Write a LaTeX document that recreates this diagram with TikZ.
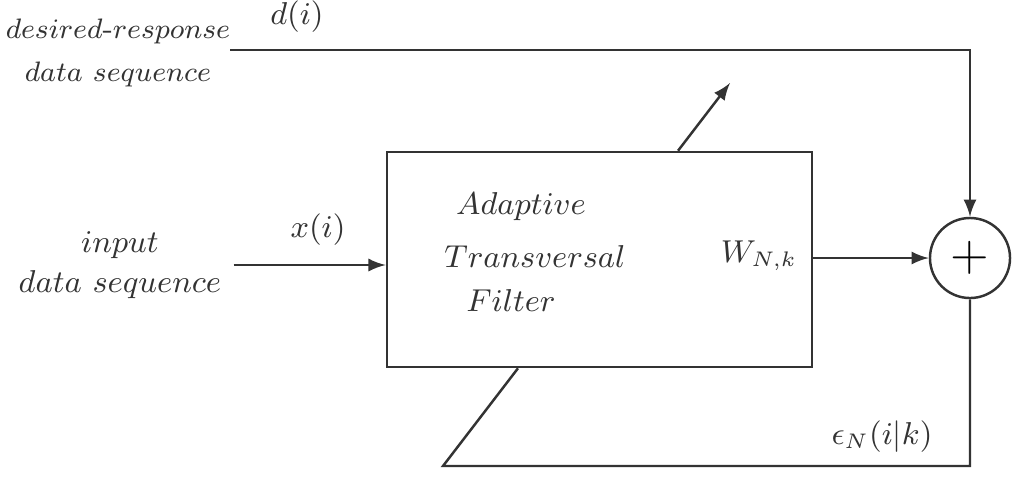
\documentclass[tikz,border=0pt]{standalone}
\usepackage{amsmath}
\usepackage{tikz}
\usetikzlibrary{arrows,positioning,calc}

\begin{document}
\begin{tikzpicture}[
    x=0.01cm, y=-0.01cm, >=latex,
    wire/.style={draw=black!80, line width=0.7pt},
    lbl/.style={align=center, text=black!80, font=\fontsize{9}{11.5}\selectfont},
    filterbox/.style={wire, rectangle, minimum width=4.25cm, minimum height=2.15cm},
    sumnode/.style={wire, circle, minimum size=0.8cm, inner sep=0pt}
]
    \useasboundingbox (0,0) rectangle (1027,481);

    \node[filterbox] (filter) at (599.5,259.5) {};
    \node[sumnode] (sum) at (970,258) {\Large $+$};

    \node[lbl, font=\fontsize{8.3}{12}\selectfont] (desired) at (118,53) {$desired$-$response$\\$data\ sequence$};
    \node[lbl] (input) at (120,265) {$input$\\$data\ sequence$};

    \node[lbl] (adaptive) at (521,207) {$Adaptive$};
    \node[lbl] (transv) at (535,256) {$Transversal$};
    \node[lbl] (filt) at (511,300) {$Filter$};
    \node[lbl] (weight) at (759,256) {$W_{N,k}$};
    \node[lbl] (dlabel) at (297,17) {$d(i)$};
    \node[lbl] (xlabel) at (318,230) {$x(i)$};
    \node[lbl] (error) at (882,437) {$\epsilon_N(i|k)$};

    \coordinate (dstart) at (230,50);
    \coordinate (tip) at (730,83);
    \coordinate (corner) at (443,466);

    \draw[wire, ->] (dstart) -| (sum.north);
    \draw[wire, ->] (input.east) -- (input.east -| filter.west);
    \draw[wire, ->] (filter.east |- sum.west) -- (sum.west);
    \draw[wire, ->] ([xshift=0.785cm]filter.north) -- (tip);
    \draw[wire] (sum.south) |- (corner) -- ([xshift=-0.815cm]filter.south);
\end{tikzpicture}
\end{document}
